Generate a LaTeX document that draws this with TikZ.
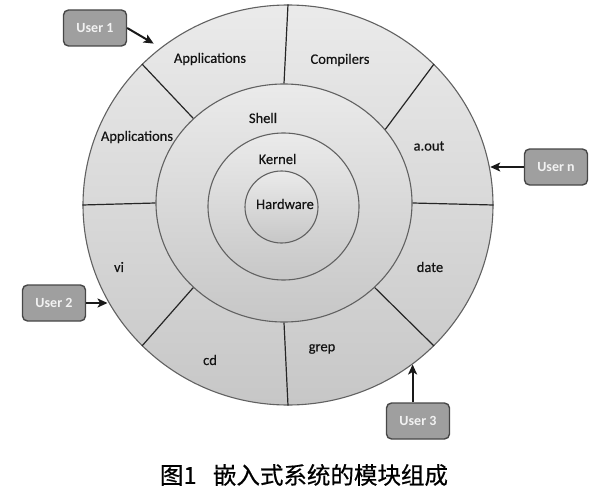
\documentclass[tikz,border=0pt]{standalone}
\usepackage{fontspec}
\setmainfont{Carlito}
\newfontfamily\labelfont{Carlito}[FakeBold=0.35]
\newfontfamily\cjkfont{Noto Sans CJK SC}[FakeBold=0.5]
\usetikzlibrary{shapes.geometric,arrows.meta}

\begin{document}
\begin{tikzpicture}[x=1pt,y=-1pt,
    ring/.style={ellipse, draw=black!62, line width=1.1pt, inner sep=0pt, top color=gray!16, bottom color=gray!44},
    divider/.style={line width=1.2pt, black!85},
    seclabel/.style={font=\labelfont\fontsize{14.5}{17}\selectfont, text=black!92},
    user/.style={draw=black!72, line width=1.4pt, rounded corners=5pt, fill=gray!75, text=white!90!gray, font=\fontsize{14}{16}\selectfont\bfseries, minimum width=63pt, minimum height=36pt, inner sep=0pt},
    userarrow/.style={-{Stealth[length=10pt,width=9pt,inset=2.5pt]}, line width=2pt, black!90}]

        \useasboundingbox (0,0) rectangle (600,495);

        %Outer ring and shell
        \node [ring, minimum width=410pt, minimum height=400pt] (outer) at (288,205) {};
        \node [ring, minimum width=256pt, minimum height=238pt] (shell) at (284,203) {};

        %Dividers
        \foreach \i/\o in {0/0, 36/44, 90/90, 137/136, 180/180, 223/224, 270/270, 317/316}
            \draw [divider] (shell.\i) -- (outer.\o);

        %Kernel and hardware
        \node [ring, minimum width=151pt, minimum height=147pt] (kernel) at (283.5,206.5) {};
        \node [ring, minimum width=73pt, minimum height=72pt] (hardware) at (281.5,207) {};

        %Labels
        \node [seclabel] (appTop) at (210,59) {Applications};
        \node [seclabel] (compilers) at (340,60) {Compilers};
        \node [seclabel] (aout) at (429,146) {a.out};
        \node [seclabel] (date) at (430,267) {date};
        \node [seclabel] (grep) at (322,349) {grep};
        \node [seclabel] (cd) at (210,360) {cd};
        \node [seclabel] (vi) at (119,267) {vi};
        \node [seclabel] (appLeft) at (137,137) {Applications};
        \node [seclabel] (shellText) at (263,118) {Shell};
        \node [seclabel] (kernelText) at (277.5,159) {Kernel};
        \node [seclabel] (hwText) at (285,204) {Hardware};

        %Users
        \node [user] (user1) at (95,28) {User 1};
        \node [user] (usern) at (556,167) {User n};
        \node [user] (user2) at (54,303) {User 2};
        \node [user] (user3) at (418,421) {User 3};

        \draw [userarrow, shorten >=8pt] (user1.east) -- (outer.129);
        \draw [userarrow] (usern.west) -- (usern.west -| outer.10);
        \draw [userarrow] (user2.east) -- (user2.east -| outer.208);
        \draw [userarrow] (outer.308 |- user3.north) -- (outer.308);

        %Caption
        \node [font=\cjkfont\fontsize{23.5}{27}\selectfont] (caption) at (304,475) {图1\hspace{0.7em}嵌入式系统的模块组成};

\end{tikzpicture}
\end{document}
